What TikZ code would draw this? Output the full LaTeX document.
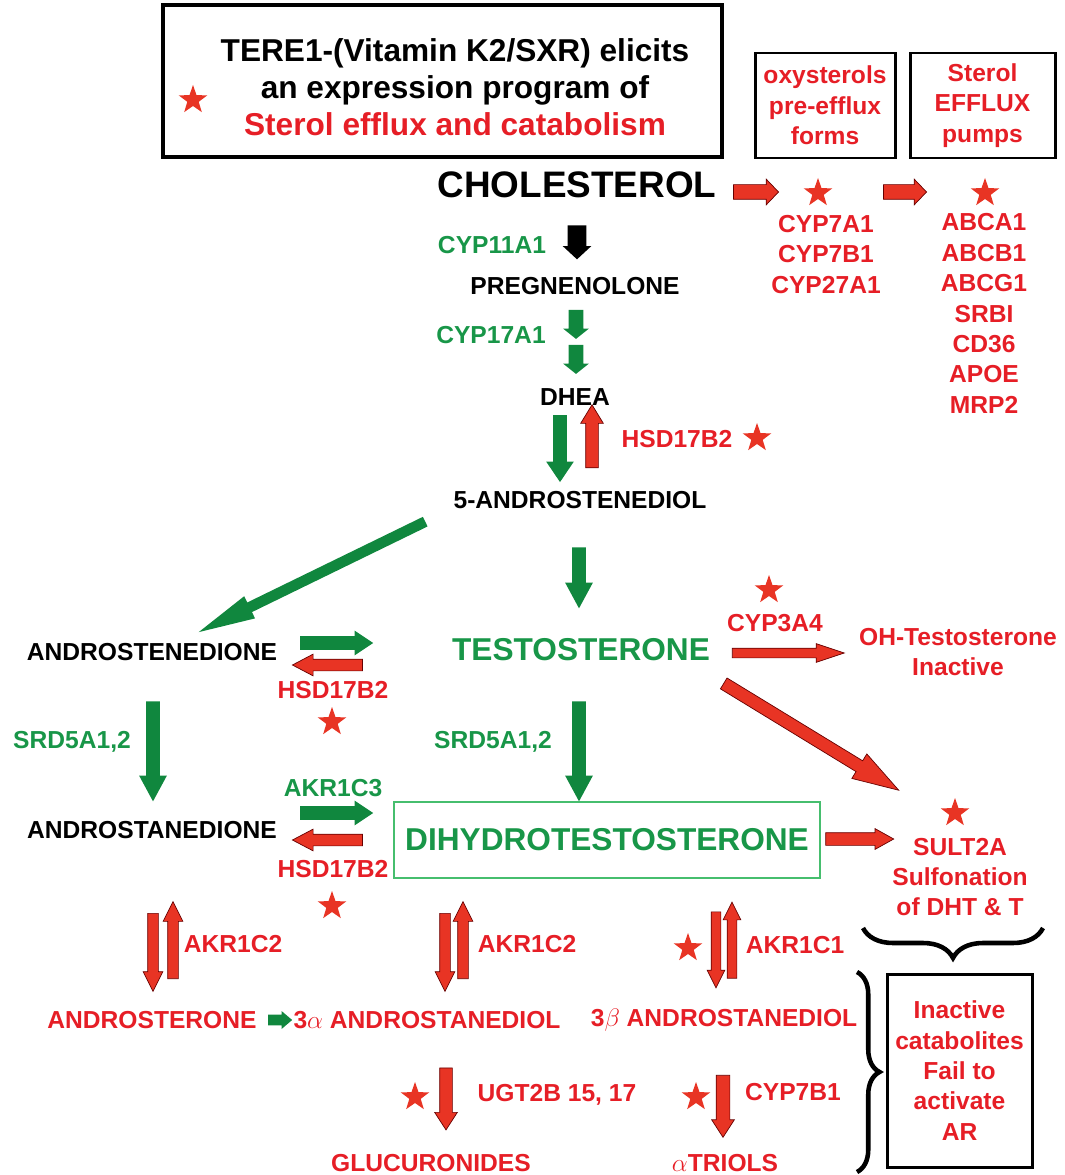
\documentclass[tikz,border=0pt]{standalone}
\usepackage{fontspec}
\setmainfont{Liberation Sans}
\usepackage{tikz}
\usetikzlibrary{shapes.geometric, shapes.arrows, decorations.pathreplacing}

\definecolor{redtxt}{RGB}{230,30,38}
\definecolor{redfill}{RGB}{232,52,36}
\definecolor{grntxt}{RGB}{24,150,72}
\definecolor{grnfill}{RGB}{16,135,62}
\definecolor{boxgrn}{RGB}{70,190,110}
\newcommand{\pxl}{0.02cm}

\tikzset{
  lbl/.style={inner sep=0pt, font=\fontsize{14}{17.3}\selectfont\bfseries},
  big/.style={inner sep=0pt, font=\fontsize{18}{21}\selectfont\bfseries},
  redlbl/.style={lbl, text=redtxt},
  grnlbl/.style={lbl, text=grntxt},
  redstar/.style={star, star points=5, star point ratio=2.5, fill=redfill, inner sep=0pt, minimum size=30*\pxl},
  blk/.style n args={4}{single arrow, inner xsep=0pt, inner ysep=#2/2*\pxl, outer sep=0pt,
    minimum height=#1*\pxl, minimum width=#3*\pxl,
    single arrow head extend={(#3-#2)/2*\pxl},
    single arrow tip angle={2*atan(#3/(2*#4))}},
  garr/.style n args={4}{blk={#1}{#2}{#3}{#4}, fill=grnfill},
  rarr/.style n args={4}{blk={#1}{#2}{#3}{#4}, fill=redfill, draw=red!40!black, line width=0.4pt},
  karr/.style n args={4}{blk={#1}{#2}{#3}{#4}, fill=black},
  blackbox/.style={draw, line width=1.7pt, align=center},
}

\begin{document}
\begin{tikzpicture}[x=\pxl, y=-\pxl]
\useasboundingbox (0,0) rectangle (1064,1175);

% Header
\node[draw, line width=2.2pt, minimum width=559*\pxl, minimum height=152*\pxl] (hdrbox) at (442.5,81) {};
\node[redstar] (hdrstar) at (193,100) {};
\node[big, align=center] (hdr) at (455,87) {TERE1-(Vitamin K2/SXR) elicits\\an expression program of\\\textcolor{redtxt}{Sterol efflux and catabolism}};

% Efflux boxes
\node[blackbox, redlbl, minimum width=140*\pxl, minimum height=105*\pxl] (oxybox) at (825,105.5) {oxysterols\\pre-efflux\\forms};
\node[blackbox, redlbl, minimum width=145*\pxl, minimum height=105*\pxl] (pumpbox) at (982.5,105.5) {Sterol\\EFFLUX\\pumps};

% Cholesterol and efflux genes
\node[inner sep=0pt, font=\fontsize{21}{25}\selectfont\bfseries] (chol) at (577,185) {CHOLESTEROL};
\node[rarr={45}{14}{25}{12}] (a-chol-oxy) at (752.5,192) {};
\node[redstar] (s-oxy) at (818,193) {};
\node[redlbl, align=center] (oxygenes) at (826,254.5) {CYP7A1\\CYP7B1\\CYP27A1};
\node[rarr={43}{14}{25}{12}] (a-oxy-pump) at (901.5,192) {};
\node[redstar] (s-pump) at (985,193) {};
\node[redlbl, align=center] (pumpgenes) at (984,313.5) {ABCA1\\ABCB1\\ABCG1\\SRBI\\CD36\\APOE\\MRP2};

% Main column
\node[karr={34}{18}{28}{13}, rotate=-90] (a-chol-preg) at (577,238) {};
\node[grnlbl] (cyp11) at (492,245) {CYP11A1};
\node[lbl] (preg) at (575,286) {PREGNENOLONE};
\node[garr={29}{14}{25}{10}, rotate=-90] (a-preg-1) at (576,321.5) {};
\node[garr={29}{14}{25}{10}, rotate=-90] (a-preg-2) at (576,356.5) {};
\node[grnlbl] (cyp17) at (491,335) {CYP17A1};
\node[lbl] (dhea) at (575,397) {DHEA};
\node[garr={67}{13}{27}{20}, rotate=-90] (a-dhea-adiol) at (560,443.5) {};
\node[rarr={63}{12}{22}{18}, rotate=90] (a-adiol-dhea) at (592,441.5) {};
\node[redlbl] (hsd1) at (677,439) {HSD17B2};
\node[redstar] (s-hsd1) at (757,438) {};
\node[lbl] (adiol) at (580,500) {5-ANDROSTENEDIOL};

% Androstenedione / testosterone
\node[garr={252}{10}{24}{55}, rotate=206] (a-adiol-adione) at (323,571.5) {};
\node[garr={61}{13}{27}{25}, rotate=-90] (a-adiol-testo) at (579,571.5) {};
\node[lbl] (adione) at (152,652) {ANDROSTENEDIONE};
\node[big, text=grntxt] (testo) at (581,650) {TESTOSTERONE};
\node[garr={73}{13}{24}{18}] (a-adione-testo) at (331.5,643) {};
\node[rarr={70}{11}{21}{20}, rotate=180] (a-testo-adione) at (333,665) {};
\node[redlbl] (hsd2) at (333,690) {HSD17B2};
\node[redstar] (s-hsd2) at (332,722) {};
\node[grnlbl] (srdL) at (72,742) {SRD5A1,2};
\node[garr={100}{13}{27}{25}, rotate=-90] (a-adione-adane) at (153,745) {};
\node[grnlbl] (srdR) at (493,742) {SRD5A1,2};
\node[garr={100}{13}{27}{25}, rotate=-90] (a-testo-dht) at (579,745) {};

% Androstanedione / DHT
\node[grnlbl] (akr1c3) at (333,788) {AKR1C3};
\node[lbl] (adane) at (152,830) {ANDROSTANEDIONE};
\node[garr={73}{13}{24}{18}] (a-adane-dht) at (331.5,813) {};
\node[rarr={70}{11}{21}{20}, rotate=180] (a-dht-adane) at (333,840) {};
\node[redlbl] (hsd3) at (333,869) {HSD17B2};
\node[redstar] (s-hsd3) at (332,906) {};
\node[big, text=grntxt, draw=boxgrn, line width=0.8pt, minimum width=426*\pxl, minimum height=76*\pxl] (dht) at (607,840) {DIHYDROTESTOSTERONE};

% Inactivation on the right
\node[redstar] (s-cyp3a4) at (769,590) {};
\node[redlbl] (cyp3a4) at (775,623) {CYP3A4};
\node[rarr={112}{9}{18}{27}] (a-testo-oh) at (781,653) {};
\node[redlbl, align=center] (ohtesto) at (958,652) {OH-Testosterone\\Inactive};
\node[rarr={205}{12}{28}{45}, rotate=-31.4] (a-testo-sult) at (802.5,731.5) {};
\node[rarr={68}{12}{20}{18}] (a-dht-sult) at (854,839) {};
\node[redstar] (s-sult) at (955,813) {};
\node[redlbl, align=center] (sult) at (960,877) {SULT2A\\Sulfonation\\of DHT \& T};
\coordinate (brR) at (1043,928);
\coordinate (brL) at (863,928);
\draw[line width=2.6pt, decorate, decoration={brace, amplitude=0.6cm}] (brR) -- (brL);

% Reduction to diols
\node[rarr={78}{10}{19}{19}, rotate=-90] (a-adane-andro) at (153,947) {};
\node[rarr={77}{10}{19}{19}, rotate=90] (a-andro-adane) at (173,945.5) {};
\node[redlbl] (akr1c2L) at (233,944) {AKR1C2};
\node[rarr={78}{10}{19}{19}, rotate=-90] (a-dht-diolA) at (445,947) {};
\node[rarr={77}{10}{19}{19}, rotate=90] (a-diolA-dht) at (463,945.5) {};
\node[redlbl] (akr1c2R) at (527,944) {AKR1C2};
\node[redstar] (s-akr1c1) at (688,948) {};
\node[rarr={76}{9}{17}{17}, rotate=-90] (a-dht-diolB) at (716,945) {};
\node[rarr={76}{9}{17}{17}, rotate=90] (a-diolB-dht) at (732,945) {};
\node[redlbl] (akr1c1) at (795,945) {AKR1C1};
\node[redlbl] (andro) at (152,1020) {ANDROSTERONE};
\node[garr={24}{10}{17}{10}] (a-andro-diolA) at (277,1020) {};
\node[redlbl] (diolA) at (427,1020) {3$\alpha$ ANDROSTANEDIOL};
\node[redlbl] (diolB) at (724,1020) {3$\beta$ ANDROSTANEDIOL};

% Conjugation
\node[redstar] (s-ugt) at (415,1097) {};
\node[rarr={62}{12}{22}{17}, rotate=-90] (a-diolA-gluc) at (446,1094) {};
\node[redlbl] (ugt) at (557,1095) {UGT2B 15, 17};
\node[redlbl] (gluc) at (431,1163) {GLUCURONIDES};
\node[redstar] (s-cyp7b1) at (696,1097) {};
\node[rarr={62}{13}{22}{17}, rotate=-90] (a-diolB-triol) at (723,1101) {};
\node[redlbl] (cyp7b1) at (793,1092) {CYP7B1};
\node[redlbl] (triols) at (725,1163) {$\alpha$TRIOLS};

% Catabolites
\coordinate (bvT) at (857,972);
\coordinate (bvB) at (857,1172);
\draw[line width=2.6pt, decorate, decoration={brace, amplitude=0.45cm}] (bvT) -- (bvB);
\node[blackbox, redlbl, minimum width=145*\pxl, minimum height=193*\pxl] (inact) at (959.5,1070.5) {Inactive\\catabolites\\Fail to\\activate\\AR};
\end{tikzpicture}
\end{document}
